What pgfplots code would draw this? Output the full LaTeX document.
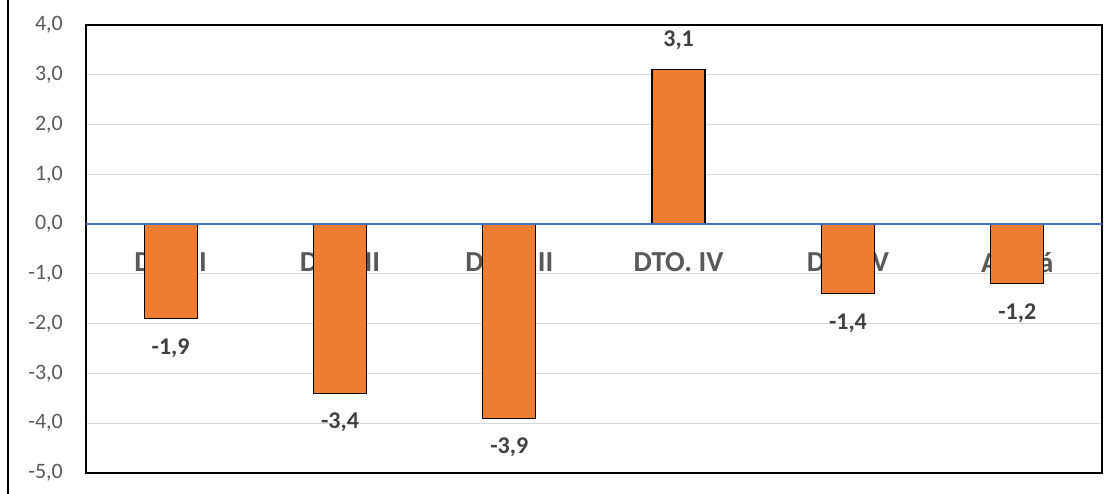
\documentclass[border=0pt]{standalone}
\usepackage{fontspec}
\setmainfont{Carlito}
\usepackage{pgfplots}
\pgfplotsset{compat=1.18}

\definecolor{barorange}{HTML}{ED7D31}
\definecolor{zeroblue}{HTML}{4472C4}
\definecolor{gridgray}{HTML}{D9D9D9}
\definecolor{ticktext}{HTML}{595959}
\definecolor{labeltext}{HTML}{404040}

\pgfplotsset{
  /pgf/number format/.cd, use comma, fixed, fixed zerofill, precision=1, assume math mode=true
}

\begin{document}
\begin{tikzpicture}
\useasboundingbox (-86pt,-21pt) rectangle (1034pt,473pt);
\draw[line width=1.5pt] (-78pt,-21pt) -- (-78pt,473pt);
\begin{axis}[
    anchor=south west, at={(0pt,0pt)},
    scale only axis, width=1016pt, height=448pt,
    xmin=0.5, xmax=6.5, ymin=-5, ymax=4,
    ytick={-5,-4,-3,-2,-1,0,1,2,3,4},
    xtick=\empty,
    ymajorgrids, grid style={draw=gridgray, line width=1pt},
    axis line style={line width=1.5pt},
    major tick length=0pt,
    yticklabel style={font=\fontsize{22}{26}\selectfont, text=ticktext, inner sep=0pt, xshift=-23pt},
    ybar, bar width=53pt,
    clip=false,
    nodes near coords,
    every node near coord/.append style={font=\bfseries\fontsize{24}{28}\selectfont, text=labeltext, inner sep=19pt},
]
% category names sit behind the bars
\node[font=\bfseries\fontsize{29}{33}\selectfont, text=ticktext] at (axis cs:1,-0.77) {DTO. I};
\node[font=\bfseries\fontsize{29}{33}\selectfont, text=ticktext] at (axis cs:2,-0.77) {DTO. II};
\node[font=\bfseries\fontsize{29}{33}\selectfont, text=ticktext] at (axis cs:3,-0.77) {DTO. III};
\node[font=\bfseries\fontsize{29}{33}\selectfont, text=ticktext] at (axis cs:4,-0.77) {DTO. IV};
\node[font=\bfseries\fontsize{29}{33}\selectfont, text=ticktext] at (axis cs:5,-0.77) {DTO. V};
\node[font=\bfseries\fontsize{29}{33}\selectfont, text=ticktext] at (axis cs:6,-0.77) {Alcalá};

\addplot[fill=barorange, draw=black, line width=1.3pt]
  coordinates {(1,-1.9) (2,-3.4) (3,-3.9) (4,3.1) (5,-1.4) (6,-1.2)};

\draw[zeroblue, line width=1.5pt] (axis cs:0.5,0) -- (axis cs:6.5,0);
\end{axis}
\end{tikzpicture}
\end{document}
